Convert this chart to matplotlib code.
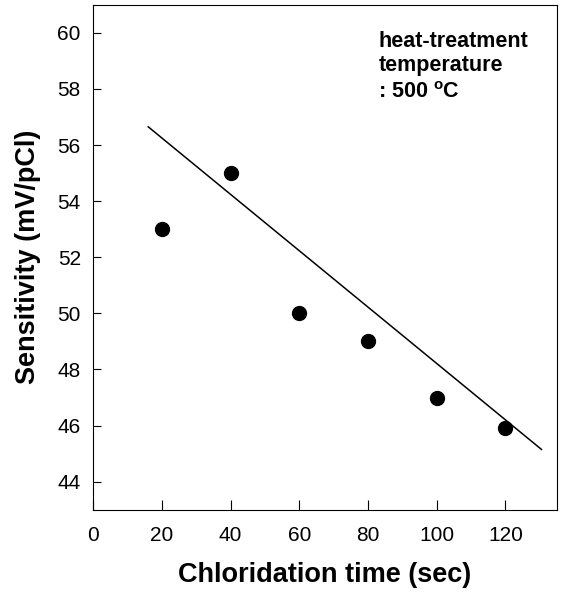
import matplotlib
matplotlib.use("Agg")
import matplotlib.pyplot as plt

plt.rcParams['font.family'] = ['Liberation Sans', 'DejaVu Sans']
plt.rcParams['mathtext.fontset'] = 'custom'
plt.rcParams['mathtext.rm'] = 'Liberation Sans'
plt.rcParams['mathtext.bf'] = 'Liberation Sans:bold'

# measured points
chloridation_time = [20, 40, 60, 80, 100, 120]
sensitivity = [53.0, 55.0, 50.0, 49.0, 47.0, 45.9]

# fitted trend line (end points)
fit_time = [16, 130.5]
fit_sensitivity = [56.65, 45.15]

x_ticks = [0, 20, 40, 60, 80, 100, 120]
y_ticks = [44, 46, 48, 50, 52, 54, 56, 58, 60]

fig = plt.figure(figsize=(5.62, 5.99), dpi=100)
ax = fig.add_axes([0.166, 0.149, 0.825, 0.843])

ax.plot(fit_time, fit_sensitivity, color='black', linewidth=1.1)
ax.plot(chloridation_time, sensitivity, 'o', color='black', markersize=10)

ax.set_xlim(0, 135)
ax.set_ylim(43, 61)
ax.set_xticks(x_ticks)
ax.set_yticks(y_ticks)
ax.tick_params(axis='x', direction='in', length=7, width=0.8, pad=12, labelsize=15)
ax.tick_params(axis='y', direction='in', length=6, width=0.8, pad=9, labelsize=15)
for s in ax.spines.values():
    s.set_linewidth(0.8)

ax.set_xlabel('Chloridation time (sec)', fontsize=19.5, fontweight='bold', labelpad=12)
ax.set_ylabel('Sensitivity (mV/pCl)', fontsize=19.5, fontweight='bold', labelpad=12)

# annotation, one line at a time
ax.text(83, 59.5, 'heat-treatment', fontsize=15.5, fontweight='bold', va='baseline')
ax.text(83, 58.63, 'temperature', fontsize=15.5, fontweight='bold', va='baseline')
ax.text(83, 57.67, r': 500 $^{\mathbf{o}}$C', fontsize=15.5, fontweight='bold', va='baseline')

fig.savefig('out.png', dpi=100)
